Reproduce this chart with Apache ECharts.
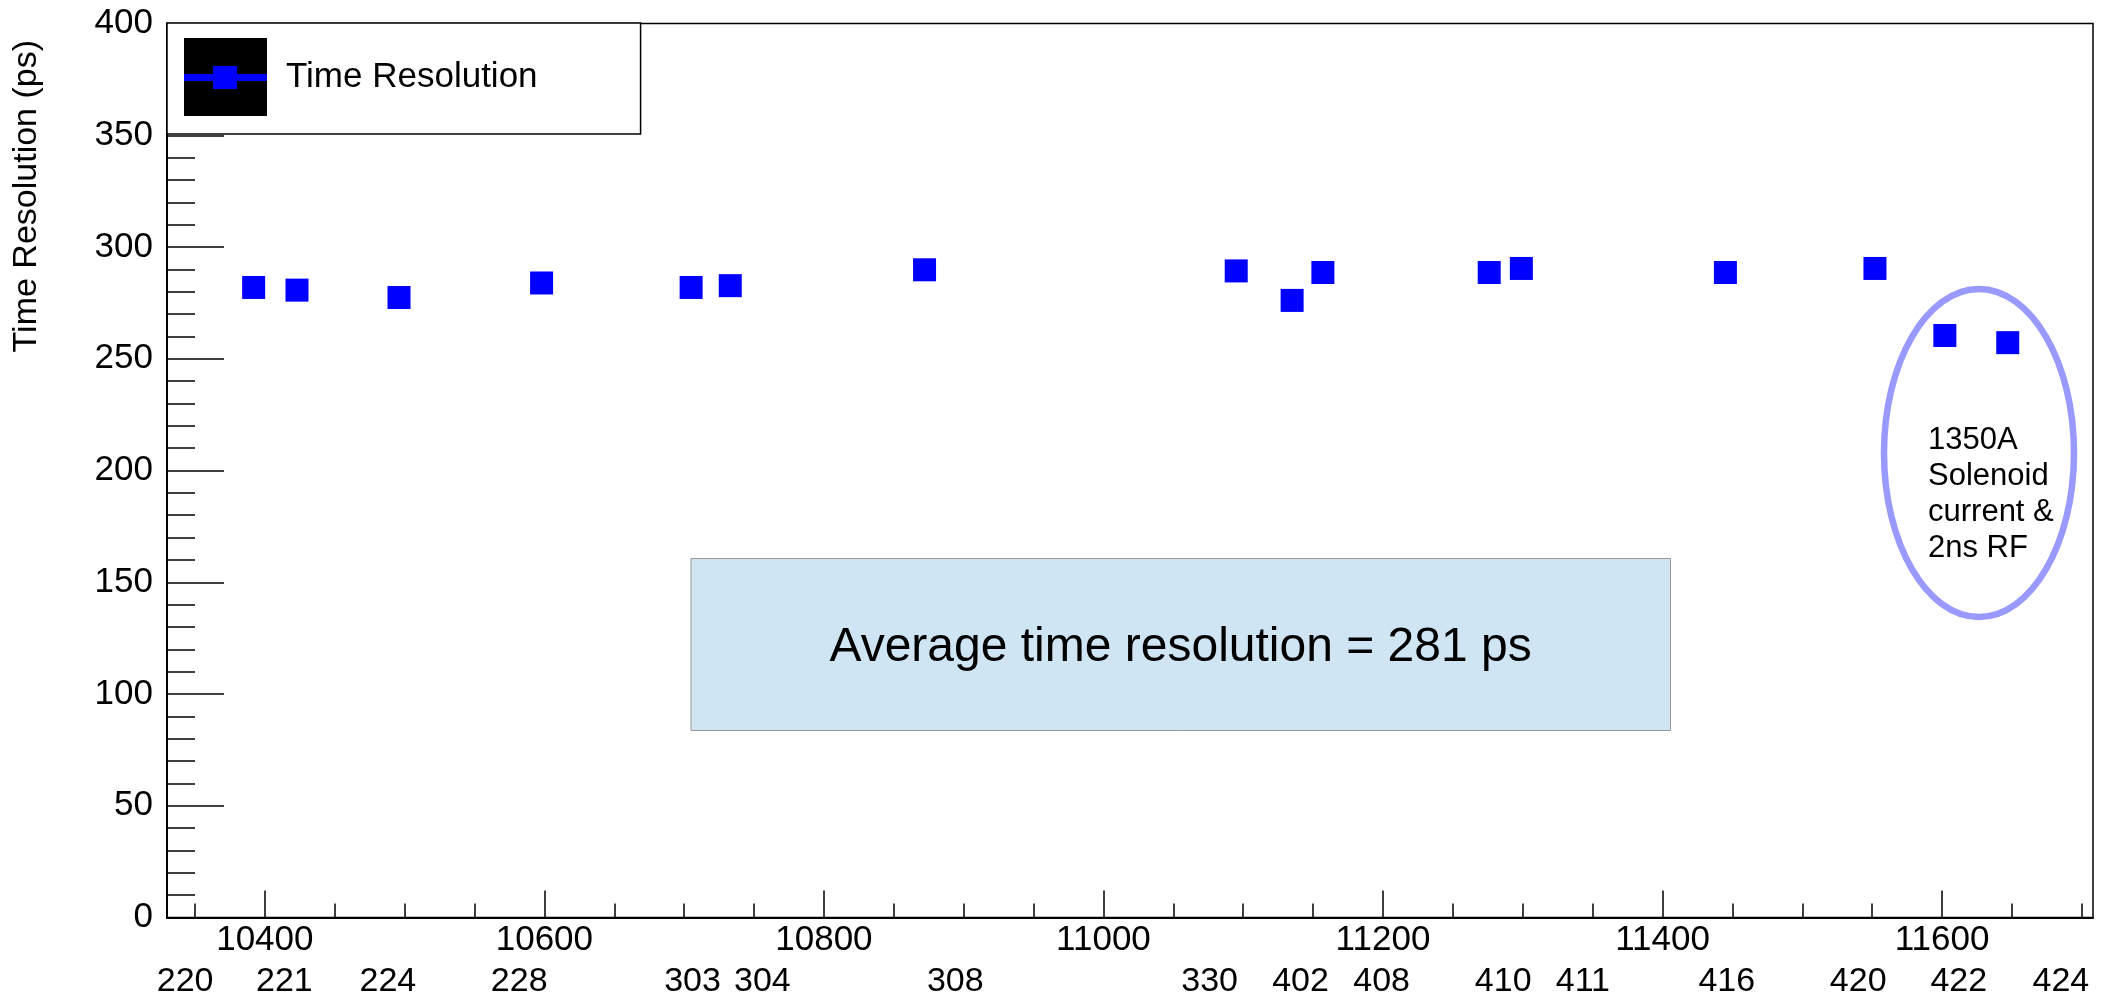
<!DOCTYPE html>
<html>
<head>
<meta charset="utf-8">
<script src="https://cdn.jsdelivr.net/npm/echarts@6/dist/echarts.min.js"></script>
<style>
html,body{margin:0;padding:0;background:#fff;}
#chart{width:2101px;height:1001px;}
</style>
</head>
<body>
<div id="chart"></div>
<script>
// ---- data ----
const seriesName = 'Time Resolution';
const runX = [10392, 10423, 10496, 10598, 10705, 10733, 10872, 11095, 11135, 11157, 11276, 11299, 11445, 11552, 11602, 11647];
const timeRes = [281.9, 280.7, 277.4, 283.9, 281.9, 282.7, 289.8, 289.3, 276.1, 288.6, 288.6, 290.4, 288.6, 290.4, 260.4, 257.2];
const xMajorTicks = [10400, 10600, 10800, 11000, 11200, 11400, 11600];
const xMinorTicks = [10350, 10450, 10500, 10550, 10650, 10700, 10750, 10850, 10900, 10950, 11050, 11100, 11150, 11250, 11300, 11350, 11450, 11500, 11550, 11650, 11700];
const runLabels = ['220','221','224','228','303','304','308','330','402','408','410','411','416','420','422','424'];
const runLabelX = [10343, 10414, 10488, 10582, 10706, 10756, 10894, 11076, 11141, 11199, 11286, 11343, 11446, 11540, 11612, 11685];
const yTitle = 'Time Resolution (ps)';
const avgText = 'Average time resolution = 281 ps';
const noteLines = ['1350A', 'Solenoid', 'current &', '2ns RF'];

const X_MIN = 10330, X_MAX = 11708;
const FONT = '"Liberation Sans", Arial, sans-serif';

const iconSvg = "<svg xmlns='http://www.w3.org/2000/svg' width='83' height='78' viewBox='0 0 83 78'>" +
  "<rect width='83' height='78' fill='black'/>" +
  "<rect x='0' y='36' width='83' height='7' fill='%230000ff'/>" +
  "<rect x='29' y='28' width='24' height='23' fill='%230000ff'/></svg>";
const iconUrl = 'image://data:image/svg+xml;charset=utf-8,' + iconSvg;

const chart = echarts.init(document.getElementById('chart'), null, {renderer: 'canvas'});

const baseX = {
  type: 'value', min: X_MIN, max: X_MAX, position: 'bottom',
  splitLine: {show: false}
};

const option = {
  animation: false,
  backgroundColor: '#ffffff',
  textStyle: {fontFamily: FONT},
  grid: {left: 167, right: 8, top: 23.5, bottom: 83.5, show: true, borderColor: '#000', borderWidth: 1.5, backgroundColor: 'transparent'},
  legend: {
    data: [{name: seriesName, icon: iconUrl}],
    left: 167, top: 23, orient: 'vertical',
    itemWidth: 83, itemHeight: 78,
    padding: [15, 103, 18, 17],
    borderColor: '#000', borderWidth: 1.5, backgroundColor: '#fff',
    textStyle: {fontSize: 35, color: '#000', fontFamily: FONT, padding: [0, 0, 0, 14]},
    selectedMode: false
  },
  xAxis: [
    Object.assign({}, baseX, {
      axisLine: {show: true, lineStyle: {color: '#000', width: 2}},
      axisTick: {show: true, inside: true, length: 27, customValues: xMajorTicks, lineStyle: {color: '#000', width: 1.5}},
      axisLabel: {show: true, customValues: xMajorTicks, fontSize: 35, color: '#000', margin: 5, fontFamily: FONT,
        formatter: function (v) { return String(v); }}
    }),
    Object.assign({}, baseX, {
      axisLine: {show: false},
      axisTick: {show: true, inside: true, length: 14, customValues: xMinorTicks, lineStyle: {color: '#000', width: 1.5}},
      axisLabel: {show: false}
    }),
    Object.assign({}, baseX, {
      axisLine: {show: false},
      axisTick: {show: false},
      axisLabel: {
        show: true, customValues: runLabelX, fontSize: 34, color: '#000', margin: 47, fontFamily: FONT,
        formatter: function (v) { const i = runLabelX.indexOf(v); return i >= 0 ? runLabels[i] : ''; }
      }
    })
  ],
  yAxis: {
    type: 'value', min: 0, max: 400, interval: 50,
    axisLine: {show: true, lineStyle: {color: '#000', width: 2}},
    axisTick: {show: true, inside: true, length: 57, lineStyle: {color: '#000', width: 1.5}},
    minorTick: {show: true, splitNumber: 5, length: 28, lineStyle: {color: '#000', width: 1.5}},
    axisLabel: {fontSize: 35, color: '#000', margin: 14, fontFamily: FONT},
    splitLine: {show: false}, minorSplitLine: {show: false}
  },
  series: [{
    name: seriesName, type: 'scatter', xAxisIndex: 0,
    symbol: 'rect', symbolSize: 23,
    itemStyle: {color: '#0000ff', opacity: 1},
    data: runX.map((x, i) => [x, timeRes[i]]),
    z: 5
  }],
  graphic: [
    {type: 'text', x: 27, y: 40, rotation: Math.PI / 2,
     style: {text: yTitle, font: '34px ' + FONT, fill: '#000', align: 'right', verticalAlign: 'middle'}},
    {type: 'rect', shape: {x: 691, y: 558.5, width: 979.5, height: 172}, z: 1,
     style: {fill: '#cfe5f3', stroke: '#999999', lineWidth: 1}},
    {type: 'text', x: 1180.6, y: 648, z: 2,
     style: {text: avgText, font: '48px ' + FONT, fill: '#000', align: 'center', verticalAlign: 'middle'}},
    {type: 'ellipse', shape: {cx: 1979, cy: 453, rx: 95, ry: 164}, z: 3,
     style: {fill: 'none', stroke: '#9999ff', lineWidth: 6.5}},
    {type: 'text', x: 1928, y: 422, z: 3,
     style: {text: noteLines.join('\n'), font: '31px ' + FONT, lineHeight: 36, fill: '#000', align: 'left', verticalAlign: 'top'}}
  ]
};
chart.setOption(option);
</script>
</body>
</html>
